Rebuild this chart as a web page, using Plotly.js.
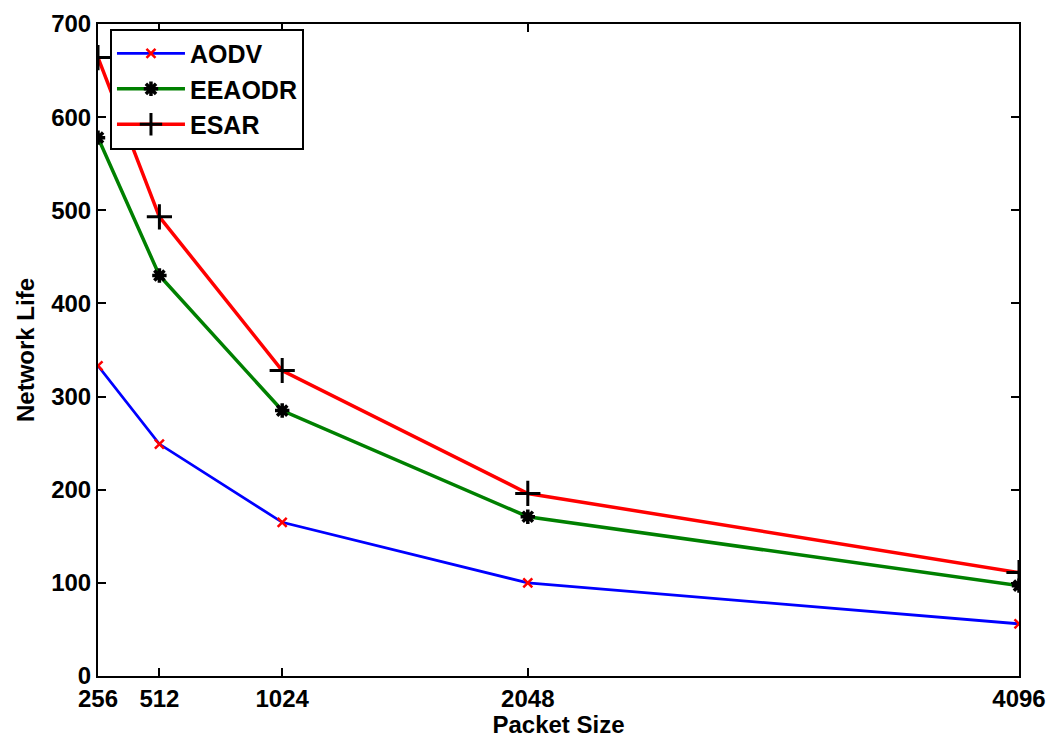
<!DOCTYPE html>
<html><head><meta charset="utf-8">
<script src="https://cdn.plot.ly/plotly-3.0.1.min.js"></script>
<style>body{margin:0;padding:0;background:#fff}#chart{width:1049px;height:738px}</style>
</head><body><div id="chart"></div>
<script>
const packetSize = [256, 512, 1024, 2048, 4096];
const aodv = [333, 249, 165, 100, 56];
const eeaodr = [578, 430, 285, 171, 97];
const esar = [664, 493, 328, 196, 111];
const xTicks = [256, 512, 1024, 2048, 4096];
const yTicks = [0, 100, 200, 300, 400, 500, 600, 700];

const font = {family: 'Liberation Sans, Arial, sans-serif', size: 24, color: '#000', weight: 'bold'};
const traces = [
  {x: packetSize, y: aodv, name: 'AODV', mode: 'lines+markers', line: {color: '#0000ff', width: 2.8},
   marker: {symbol: 'x-thin-open', size: 9, color: '#ff0000', line: {color: '#ff0000', width: 2.5}}},
  {x: packetSize, y: eeaodr, name: 'EEAODR', mode: 'lines+markers', line: {color: '#008000', width: 3.5},
   marker: {symbol: 'asterisk-open', size: 12, color: '#000', line: {color: '#000', width: 3.5}}},
  {x: packetSize, y: esar, name: 'ESAR', mode: 'lines+markers', line: {color: '#ff0000', width: 3.5},
   marker: {symbol: 'cross-thin-open', size: 18, color: '#000', line: {color: '#000', width: 3}}}
];
const axisCommon = {showline: true, linecolor: '#000', linewidth: 2, mirror: 'ticks', ticks: 'inside',
  ticklen: 8, tickcolor: '#000', tickwidth: 1.5, showgrid: false, zeroline: false, tickfont: font};
const layout = {
  width: 1049, height: 738, paper_bgcolor: '#fff', plot_bgcolor: '#fff',
  margin: {l: 98, r: 30, t: 24, b: 62},
  font: font,
  showlegend: true,
  legend: {x: 0.013, y: 0.993, xanchor: 'left', yanchor: 'top', bordercolor: '#000', borderwidth: 2,
    bgcolor: '#fff', itemwidth: 68, tracegroupgap: 8,
    font: {family: 'Liberation Sans, Arial, sans-serif', size: 25, color: '#000'}},
  xaxis: Object.assign({}, axisCommon, {range: [256, 4096], tickvals: xTicks, ticktext: xTicks.map(String),
    title: {text: 'Packet Size', font: font, standoff: 2}}),
  yaxis: Object.assign({}, axisCommon, {range: [0, 700], tickvals: yTicks, ticktext: yTicks.map(String),
    title: {text: 'Network Life', font: font, standoff: 10}})
};
Plotly.newPlot('chart', traces, layout, {displayModeBar: false});
</script></body></html>
